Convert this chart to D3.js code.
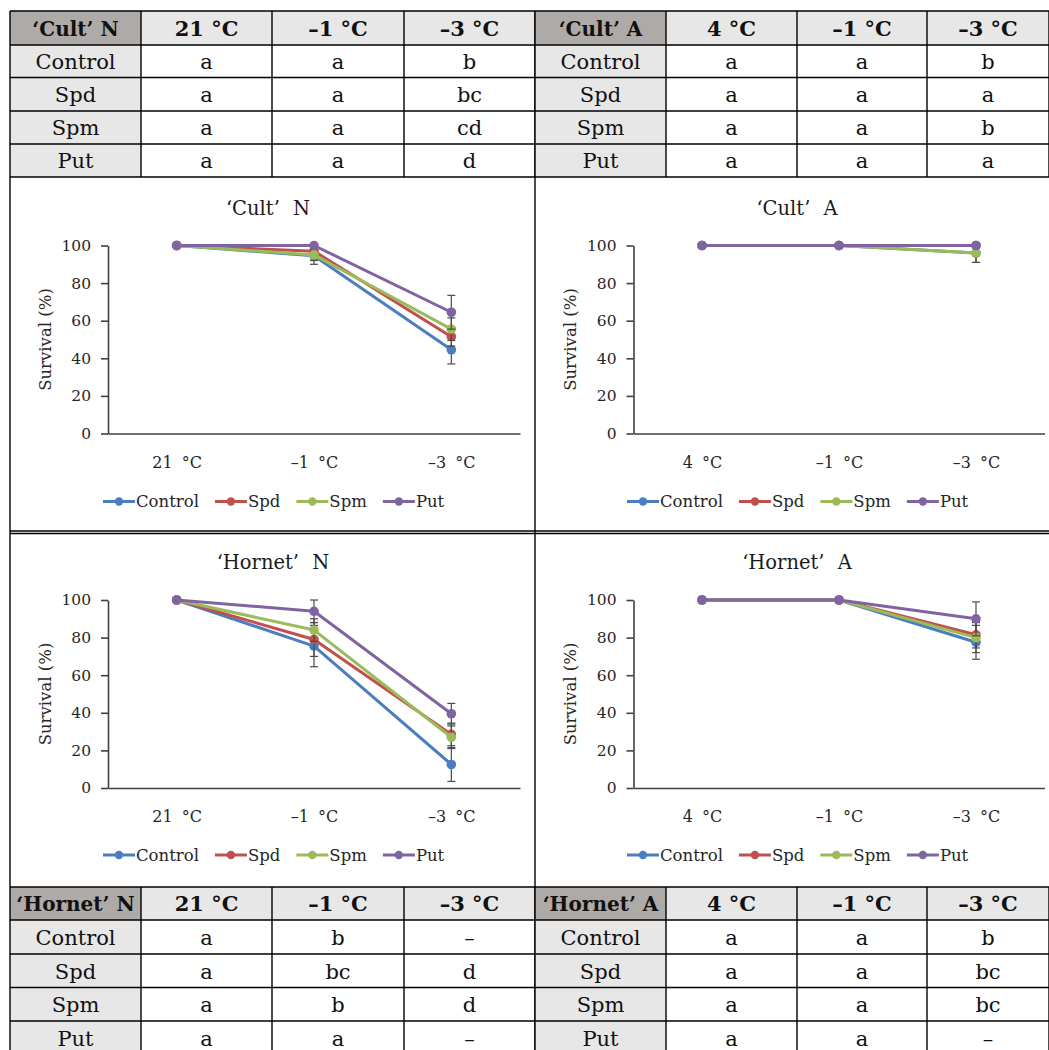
<!DOCTYPE html>
<html><head><meta charset="utf-8">
<script src="https://cdn.jsdelivr.net/npm/d3@7"></script>
<style>
body{margin:0;background:#fff}
svg{display:block}
text{font-family:"DejaVu Serif","Liberation Serif",serif}
</style>
</head><body>
<svg id="c" width="1049" height="1050"></svg>
<script>
// ---------- data ----------
const seriesNames = ["Control", "Spd", "Spm", "Put"];
const seriesColors = ["#4a7ebf", "#c0504d", "#9bbb59", "#8064a2"];
const yTicks = [0, 20, 40, 60, 80, 100];

const cultNCategories = ["21 °C", "–1 °C", "–3 °C"];
const cultACategories = ["4 °C", "–1 °C", "–3 °C"];
const hornetNCategories = ["21 °C", "–1 °C", "–3 °C"];
const hornetACategories = ["4 °C", "–1 °C", "–3 °C"];

// means per series (Control, Spd, Spm, Put)
const cultNMeans = [[100, 94.5, 44.5], [100, 97, 51.5], [100, 95, 55.5], [100, 100, 64.5]];
const cultNErrors = [[0, 4.5, 7.5], [0, 2, 5], [0, 3, 6], [0, 0, 9]];
const cultAMeans = [[100, 100, 96], [100, 100, 100], [100, 100, 96], [100, 100, 100]];
const cultAErrors = [[0, 0, 5], [0, 0, 0], [0, 0, 5], [0, 0, 0]];
const hornetNMeans = [[100, 75.5, 12.5], [100, 79, 28.5], [100, 84, 27], [100, 94, 39.5]];
const hornetNErrors = [[0, 11, 9], [0, 9, 6], [0, 6, 6], [0, 6, 5.5]];
const hornetAMeans = [[100, 100, 77.5], [100, 100, 81.5], [100, 100, 80], [100, 100, 90]];
const hornetAErrors = [[0, 0, 9], [0, 0, 7], [0, 0, 8], [0, 0, 9]];

// significance letters
const cultNLetters = [["a", "a", "b"], ["a", "a", "bc"], ["a", "a", "cd"], ["a", "a", "d"]];
const cultALetters = [["a", "a", "b"], ["a", "a", "a"], ["a", "a", "b"], ["a", "a", "a"]];
const hornetNLetters = [["a", "b", "–"], ["a", "bc", "d"], ["a", "b", "d"], ["a", "a", "–"]];
const hornetALetters = [["a", "a", "b"], ["a", "a", "bc"], ["a", "a", "bc"], ["a", "a", "–"]];

// ---------- drawing ----------
const svg = d3.select("#c");
svg.append("rect").attr("width", 1049).attr("height", 1050).attr("fill", "#fff");

function drawTable(xs, ys, title, cats, letters) {
  const g = svg.append("g");
  const rows = [[title, ...cats]].concat(letters.map((l, i) => [seriesNames[i], ...l]));
  rows.forEach((row, r) => {
    row.forEach((val, c) => {
      const fill = (r === 0 && c === 0) ? "#aeaaa7" : (r === 0 || c === 0) ? "#e8e7e7" : "#ffffff";
      g.append("rect").attr("x", xs[c]).attr("y", ys[r])
        .attr("width", xs[c + 1] - xs[c]).attr("height", ys[r + 1] - ys[r]).attr("fill", fill);
      g.append("text").attr("x", (xs[c] + xs[c + 1]) / 2).attr("y", (ys[r] + ys[r + 1]) / 2)
        .attr("dy", "0.38em").attr("text-anchor", "middle")
        .attr("font-size", (r === 0 && c === 0) ? 20 : 21).attr("font-weight", r === 0 ? "bold" : "normal")
        .attr("fill", "#111").text(val);
    });
  });
  ys.forEach(yv => g.append("line").attr("x1", xs[0]).attr("x2", xs[xs.length - 1])
    .attr("y1", yv).attr("y2", yv).attr("stroke", "#000").attr("stroke-width", 1.4));
  xs.forEach(xv => g.append("line").attr("x1", xv).attr("x2", xv)
    .attr("y1", ys[0]).attr("y2", ys[ys.length - 1]).attr("stroke", "#000").attr("stroke-width", 1.4));
}

const topRows = [11, 45, 77.5, 111, 144, 177];
const botRows = [887, 920, 954, 987.5, 1021, 1055];
const leftCols = [10, 141, 272, 404, 535];
const rightCols = [535, 666, 797, 927, 1049];

drawTable(leftCols, topRows, "‘Cult’ N", cultNCategories, cultNLetters);
drawTable(rightCols, topRows, "‘Cult’ A", cultACategories, cultALetters);
drawTable(leftCols, botRows, "‘Hornet’ N", hornetNCategories, hornetNLetters);
drawTable(rightCols, botRows, "‘Hornet’ A", hornetACategories, hornetALetters);

// frame lines around the chart panels
const frame = svg.append("g").attr("stroke", "#000").attr("stroke-width", 1.4);
frame.append("line").attr("x1", 10).attr("x2", 10).attr("y1", 177).attr("y2", 887);
frame.append("line").attr("x1", 535).attr("x2", 535).attr("y1", 177).attr("y2", 887);
frame.append("line").attr("x1", 10).attr("x2", 1049).attr("y1", 531).attr("y2", 531);
frame.append("line").attr("x1", 10).attr("x2", 1049).attr("y1", 533.5).attr("y2", 533.5);

function drawChart(o) {
  const x = d3.scalePoint().domain(o.cats).range([o.x0, o.x1]).padding(0.5);
  const y = d3.scaleLinear().domain([0, 100]).range([o.y0, o.y100]);
  const g = svg.append("g");
  const axisColor = "#404040";

  const ya = g.append("g").attr("transform", `translate(${o.x0},0)`)
    .call(d3.axisLeft(y).tickValues(yTicks).tickSize(7).tickPadding(10).tickSizeOuter(0));
  const xa = g.append("g").attr("transform", `translate(0,${o.y0})`)
    .call(d3.axisBottom(x).tickSize(0).tickPadding(23).tickSizeOuter(0));
  [ya, xa].forEach(a => {
    a.selectAll("path,line").attr("stroke", axisColor).attr("stroke-width", 1.6);
    a.selectAll("text").attr("fill", "#262626").style("font-family", "DejaVu Serif, serif");
  });
  ya.selectAll("text").attr("font-size", 15.5);
  xa.selectAll("text").attr("font-size", 16).style("word-spacing", "4px");

  // title
  g.append("text").attr("x", o.titleX).attr("y", o.titleY).attr("text-anchor", "middle")
    .attr("font-size", 19.5).attr("fill", "#1a1a1a").style("word-spacing", "7px").text(o.title);
  // y axis label
  g.append("text").attr("transform", `translate(${o.x0 - 63},${(o.y0 + o.y100) / 2}) rotate(-90)`)
    .attr("text-anchor", "middle").attr("dy", "0.35em").attr("font-size", 16.5)
    .attr("fill", "#262626").text("Survival (%)");

  const line = d3.line().x((d, i) => x(o.cats[i])).y(d => y(d));
  const clamp = v => Math.max(0, Math.min(100, v));
  o.means.forEach((m, s) => {
    const col = seriesColors[s];
    g.append("path").datum(m).attr("d", line).attr("fill", "none")
      .attr("stroke", col).attr("stroke-width", 3).attr("stroke-linejoin", "round");
    m.forEach((v, i) => {
      const e = o.errs[s][i];
      if (e > 0) {
        const px = x(o.cats[i]);
        const hi = clamp(v + e), lo = clamp(v - e);
        g.append("line").attr("x1", px).attr("x2", px).attr("y1", y(hi)).attr("y2", y(lo))
          .attr("stroke", "#4a4a4a").attr("stroke-width", 1.2);
        [[hi, v + e], [lo, v - e]].forEach(([cv, raw]) => {
          if (cv === raw) g.append("line").attr("x1", px - 4).attr("x2", px + 4)
            .attr("y1", y(cv)).attr("y2", y(cv)).attr("stroke", "#4a4a4a").attr("stroke-width", 1.2);
        });
      }
    });
    g.selectAll(null).data(m).enter().append("circle")
      .attr("cx", (d, i) => x(o.cats[i])).attr("cy", d => y(d)).attr("r", 4.8).attr("fill", col);
  });

  // legend
  const lg = g.append("g");
  let cur = 0;
  seriesNames.forEach((n, s) => {
    const it = lg.append("g").attr("transform", `translate(${cur},0)`);
    it.append("line").attr("x1", 0).attr("x2", 32).attr("y1", 0).attr("y2", 0)
      .attr("stroke", seriesColors[s]).attr("stroke-width", 3);
    it.append("circle").attr("cx", 16).attr("cy", 0).attr("r", 4.2).attr("fill", seriesColors[s]);
    const t = it.append("text").attr("x", 33).attr("y", 0).attr("dy", "0.35em")
      .attr("font-size", 16.5).attr("fill", "#262626").text(n);
    const w = t.node().getComputedTextLength();
    cur += 33 + w + 16;
  });
  lg.attr("transform", `translate(${o.legendX},${o.legendY})`);
}

drawChart({ x0: 108, x1: 520, y100: 245.5, y0: 433.5, titleX: 268, titleY: 215, legendX: 103, legendY: 501.5,
  title: "‘Cult’ N", cats: cultNCategories, means: cultNMeans, errs: cultNErrors });
drawChart({ x0: 633.5, x1: 1044.5, y100: 245.5, y0: 433.5, titleX: 797, titleY: 215, legendX: 627, legendY: 501.5,
  title: "‘Cult’ A", cats: cultACategories, means: cultAMeans, errs: cultAErrors });
drawChart({ x0: 108, x1: 520, y100: 600, y0: 788, titleX: 273, titleY: 569, legendX: 103, legendY: 855,
  title: "‘Hornet’ N", cats: hornetNCategories, means: hornetNMeans, errs: hornetNErrors });
drawChart({ x0: 633.5, x1: 1044.5, y100: 600, y0: 788, titleX: 797, titleY: 569, legendX: 627, legendY: 855,
  title: "‘Hornet’ A", cats: hornetACategories, means: hornetAMeans, errs: hornetAErrors });
</script>
</body></html>
